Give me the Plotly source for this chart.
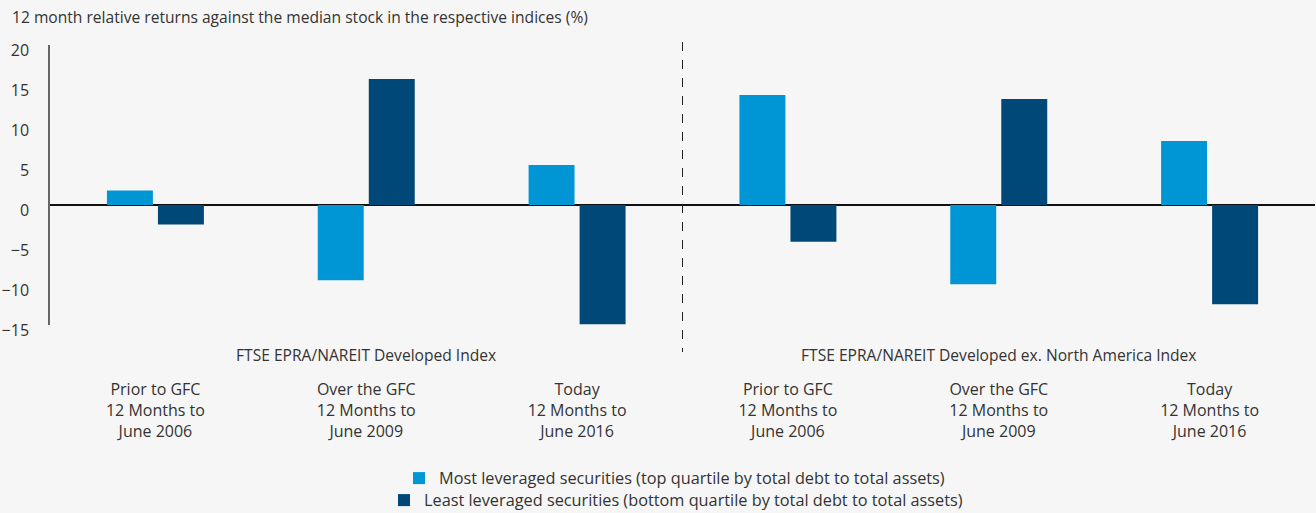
import plotly.graph_objects as go

categories = [
    "Prior to GFC<br>12 Months to<br>June 2006",
    "Over the GFC<br>12 Months to<br>June 2009",
    "Today<br>12 Months to<br>June 2016",
    "Prior to GFC<br>12 Months to<br>June 2006",
    "Over the GFC<br>12 Months to<br>June 2009",
    "Today<br>12 Months to<br>June 2016",
]
most_leveraged = [1.8, -9.4, 5.0, 13.75, -9.9, 8.0]
least_leveraged = [-2.45, 15.75, -14.9, -4.6, 13.25, -12.4]
index_groups = ["FTSE EPRA/NAREIT Developed Index",
                "FTSE EPRA/NAREIT Developed ex. North America Index"]
series_names = ["Most leveraged securities (top quartile by total debt to total assets)",
                "Least leveraged securities (bottom quartile by total debt to total assets)"]
y_ticks = [-15, -10, -5, 0, 5, 10, 15, 20]

LIGHT = "#0096d6"
DARK = "#004878"
BG = "#f6f6f6"
TXT = "#333333"
FONT = "Open Sans"

xpos = list(range(len(categories)))

fig = go.Figure()
fig.add_trace(go.Bar(x=xpos, y=most_leveraged, name=series_names[0],
                     marker=dict(color=LIGHT, line=dict(width=0)),
                     width=0.218, offset=-0.230, legend="legend"))
fig.add_trace(go.Bar(x=xpos, y=least_leveraged, name=series_names[1],
                     marker=dict(color=DARK, line=dict(width=0)),
                     width=0.218, offset=0.012, legend="legend2"))

W, H = 1316, 513
ml, mr, mt, mb = 50, 1, 45, 188
pw, ph = W - ml - mr, H - mt - mb

def px_to_paper_x(px):
    return (px - ml) / pw

def px_to_paper_y(py):
    return (H - mb - py) / ph

annotations = []
for gi, label in enumerate(index_groups):
    annotations.append(dict(text=label, x=1 + 3 * gi, xref="x",
                            y=px_to_paper_y(355), yref="paper",
                            xanchor="center", yanchor="middle", showarrow=False,
                            font=dict(family=FONT, size=15.6, color=TXT)))

fig.update_layout(
    width=W, height=H,
    margin=dict(l=ml, r=mr, t=mt, b=mb, autoexpand=False),
    paper_bgcolor=BG, plot_bgcolor=BG,
    font=dict(family=FONT, size=15, color=TXT),
    title=dict(text="12 month relative returns against the median stock in the respective indices (%)",
               x=12 / W, xanchor="left", y=1 - 18 / H, yanchor="middle",
               font=dict(family=FONT, size=15.6, color=TXT)),
    showlegend=True,
    legend=dict(x=px_to_paper_x(399), xanchor="left", y=px_to_paper_y(496), yanchor="bottom",
                bgcolor="rgba(0,0,0,0)", font=dict(family=FONT, size=16.3, color=TXT),
                itemclick=False, itemdoubleclick=False, tracegroupgap=0),
    legend2=dict(x=px_to_paper_x(384), xanchor="left", y=px_to_paper_y(518), yanchor="bottom",
                 bgcolor="rgba(0,0,0,0)", font=dict(family=FONT, size=16.3, color=TXT),
                 itemclick=False, itemdoubleclick=False, tracegroupgap=0),
    xaxis=dict(range=[-0.5, 5.5], tickvals=xpos, ticktext=categories,
               showline=False, showgrid=False, zeroline=False, ticks="",
               tickfont=dict(family=FONT, size=16, color=TXT), automargin=False,
               ticklabelstandoff=53, fixedrange=True),
    yaxis=dict(range=[-15, 20], tickvals=y_ticks, showgrid=False,
               showline=True, linecolor="#666666", linewidth=1.5,
               zeroline=True, zerolinecolor="#111111", zerolinewidth=1.5,
               ticks="", ticklabelstandoff=16, ticklabelshift=5, automargin=False,
               tickfont=dict(family=FONT, size=16, color=TXT), fixedrange=True),
    shapes=[dict(type="line", xref="paper", yref="paper",
                 x0=0.5, x1=0.5, y0=px_to_paper_y(42), y1=px_to_paper_y(352),
                 line=dict(color="#222222", width=1, dash="dash"))],
    annotations=annotations,
)

post = ("document.body.style.margin='0';document.body.style.padding='0';"
        "document.body.style.background='%s';document.body.style.overflow='hidden';" % BG)
fig.write_html("out.html", post_script=post, config={"displayModeBar": False})
